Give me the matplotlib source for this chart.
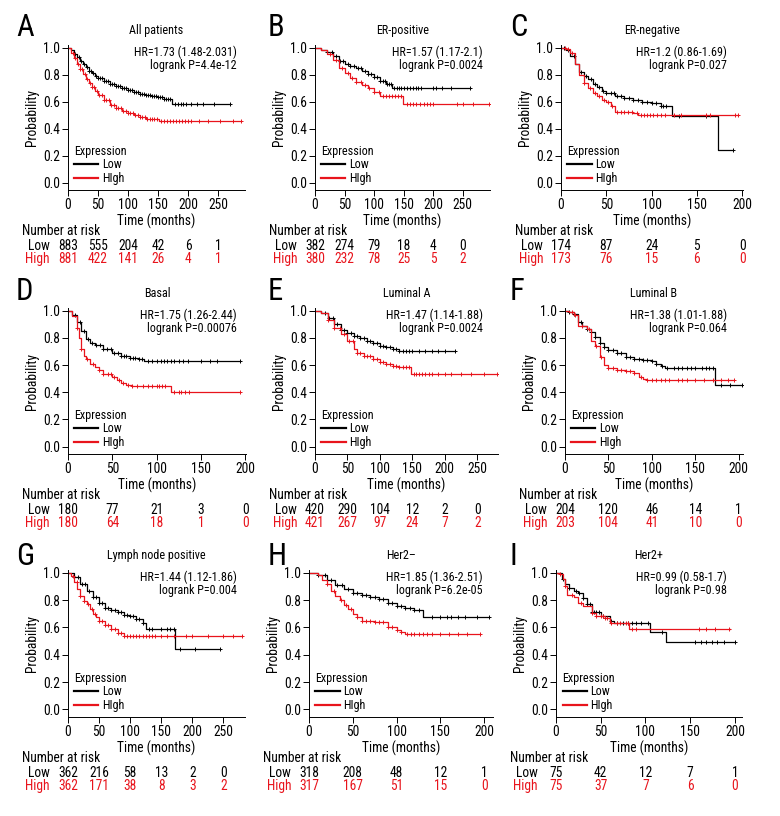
import numpy as np
import matplotlib
matplotlib.use("Agg")
import matplotlib.pyplot as plt
import matplotlib.font_manager as fm
from matplotlib.ticker import FormatStrFormatter
from matplotlib.transforms import blended_transform_factory

# condensed look of the original: take a narrow family if one is installed
_ttf = fm.fontManager.ttflist
_names = {f.name for f in _ttf}
fs_scale = 1.0
picked = None
for cand in ['Liberation Sans Narrow', 'Roboto Condensed', 'Open Sans Condensed',
             'Noto Sans Condensed', 'DejaVu Sans Condensed']:
    if cand in _names:
        picked = cand
        break
if picked:
    plt.rcParams['font.family'] = [picked, 'DejaVu Sans']
elif any(f.name == 'DejaVu Sans' and 'condensed' in str(f.stretch) for f in _ttf):
    plt.rcParams['font.family'] = ['DejaVu Sans']
    plt.rcParams['font.stretch'] = 'condensed'
    picked = 'DejaVu Sans Condensed'
else:
    plt.rcParams['font.family'] = ['Roboto', 'DejaVu Sans']
    fs_scale = 0.85
    picked = 'Roboto'

RED = '#e8141c'

# ---- panel A: All patients
a_low_t = [0, 5, 10, 15, 20, 25, 30, 35, 40, 45, 50, 60, 70, 80, 90, 100, 110, 120, 130, 140, 150, 160, 174, 270]
a_low_s = [1.0, 0.98, 0.955, 0.93, 0.905, 0.88, 0.855, 0.83, 0.81, 0.79, 0.775, 0.75, 0.73, 0.715, 0.70, 0.688, 0.675, 0.66, 0.65, 0.64, 0.632, 0.622, 0.58, 0.58]
a_low_cens = [12, 18, 22, 27, 31, 35, 38, 42, 46, 50, 53, 57, 60, 63, 66, 70, 73, 76, 80, 83, 86, 90, 93, 96, 100, 103, 106, 110, 113, 116, 120, 123, 126, 130, 133, 136, 140, 143, 146, 150, 153, 156, 160, 163, 166, 170, 178, 183, 188, 192, 197, 205, 215, 225, 243, 270]
a_high_t = [0, 5, 10, 15, 20, 25, 30, 35, 40, 45, 50, 60, 70, 80, 90, 100, 110, 120, 130, 152, 288]
a_high_s = [1.0, 0.96, 0.92, 0.88, 0.84, 0.805, 0.77, 0.74, 0.71, 0.68, 0.65, 0.61, 0.575, 0.55, 0.53, 0.515, 0.50, 0.485, 0.475, 0.46, 0.46]
a_high_cens = [8, 12, 16, 20, 24, 28, 32, 36, 40, 44, 48, 52, 56, 60, 64, 68, 72, 76, 80, 84, 88, 92, 96, 100, 104, 108, 112, 116, 120, 124, 128, 132, 136, 140, 144, 148, 155, 160, 165, 170, 175, 180, 185, 190, 195, 200, 205, 219, 233, 253, 275, 288]
a_risk_low = [883, 555, 204, 42, 6, 1]
a_risk_high = [881, 422, 141, 26, 4, 1]
a_hr = ["HR=1.73 (1.48-2.031)", "logrank P=4.4e-12"]

# ---- panel B: ER-positive
b_low_t = [0, 10, 20, 30, 40, 50, 60, 70, 80, 90, 100, 110, 120, 130, 262]
b_low_s = [1.0, 0.985, 0.965, 0.935, 0.905, 0.88, 0.865, 0.85, 0.83, 0.805, 0.78, 0.755, 0.73, 0.70, 0.70]
b_low_cens = [20, 28, 35, 42, 48, 55, 60, 66, 72, 78, 84, 90, 95, 100, 105, 110, 115, 118, 122, 125, 128, 133, 138, 142, 146, 150, 155, 160, 165, 170, 175, 180, 200, 205, 215, 230, 262]
b_high_t = [0, 10, 20, 30, 40, 50, 60, 70, 80, 90, 100, 110, 148, 295]
b_high_s = [1.0, 0.985, 0.955, 0.91, 0.85, 0.81, 0.775, 0.745, 0.72, 0.70, 0.675, 0.64, 0.58, 0.58]
b_high_cens = [25, 35, 45, 55, 62, 70, 78, 85, 92, 100, 108, 115, 120, 125, 130, 135, 140, 145, 155, 160, 165, 170, 178, 185, 190, 195, 200, 240, 251, 268, 295]
b_risk_low = [382, 274, 79, 18, 4, 0]
b_risk_high = [380, 232, 78, 25, 5, 2]
b_hr = ["HR=1.57 (1.17-2.1)", "logrank P=0.0024"]

# ---- panel C: ER-negative
c_low_t = [0, 5, 10, 15, 20, 25, 30, 35, 40, 45, 50, 60, 70, 80, 90, 100, 110, 123, 173, 190]
c_low_s = [1.0, 0.985, 0.94, 0.88, 0.82, 0.79, 0.765, 0.73, 0.705, 0.68, 0.665, 0.645, 0.63, 0.615, 0.60, 0.59, 0.565, 0.49, 0.245, 0.245]
c_low_cens = [3, 8, 14, 22, 28, 33, 38, 42, 46, 50, 55, 58, 62, 66, 70, 75, 80, 85, 90, 95, 100, 105, 110, 113, 116, 130, 160, 190]
c_high_t = [0, 5, 10, 15, 20, 25, 30, 35, 40, 45, 50, 55, 60, 65, 80, 85, 195]
c_high_s = [1.0, 0.99, 0.96, 0.88, 0.80, 0.74, 0.70, 0.665, 0.645, 0.61, 0.595, 0.565, 0.525, 0.52, 0.515, 0.50, 0.50]
c_high_cens = [4, 8, 12, 25, 32, 38, 42, 47, 52, 56, 62, 66, 70, 74, 78, 84, 88, 92, 95, 98, 102, 106, 110, 115, 125, 132, 160, 165, 192, 195]
c_risk_low = [174, 87, 24, 5, 0]
c_risk_high = [173, 76, 15, 6, 0]
c_hr = ["HR=1.2 (0.86-1.69)", "logrank P=0.027"]

# ---- panel D: Basal
d_low_t = [0, 5, 10, 15, 20, 25, 30, 40, 50, 60, 70, 80, 86, 194]
d_low_s = [1.0, 0.97, 0.92, 0.85, 0.79, 0.765, 0.745, 0.715, 0.69, 0.665, 0.655, 0.645, 0.63, 0.63]
d_low_cens = [8, 14, 18, 23, 27, 32, 36, 40, 44, 48, 52, 56, 60, 63, 66, 70, 73, 76, 80, 84, 90, 95, 100, 105, 108, 112, 116, 120, 125, 130, 135, 150, 160, 168, 194]
d_high_t = [0, 5, 10, 12, 15, 18, 20, 25, 30, 35, 40, 50, 55, 60, 65, 72, 116, 194]
d_high_s = [1.0, 0.96, 0.87, 0.80, 0.72, 0.67, 0.645, 0.61, 0.585, 0.56, 0.535, 0.51, 0.49, 0.47, 0.455, 0.445, 0.40, 0.40]
d_high_cens = [10, 15, 22, 28, 35, 40, 45, 48, 52, 58, 62, 68, 72, 78, 85, 90, 95, 100, 103, 106, 110, 120, 125, 128, 132, 137, 194]
d_risk_low = [180, 77, 21, 3, 0]
d_risk_high = [180, 64, 18, 1, 0]
d_hr = ["HR=1.75 (1.26-2.44)", "logrank P=0.00076"]

# ---- panel E: Luminal A
e_low_t = [0, 10, 20, 30, 40, 50, 60, 70, 80, 90, 100, 110, 120, 130, 215]
e_low_s = [1.0, 0.985, 0.95, 0.90, 0.86, 0.835, 0.815, 0.80, 0.78, 0.76, 0.74, 0.73, 0.715, 0.70, 0.70]
e_low_cens = [15, 22, 28, 34, 40, 45, 50, 55, 60, 65, 70, 75, 80, 85, 90, 95, 100, 105, 110, 115, 120, 125, 130, 135, 140, 145, 150, 160, 170, 180, 190, 200, 215]
e_high_t = [0, 10, 20, 30, 40, 50, 60, 65, 75, 90, 100, 110, 120, 130, 148, 280]
e_high_s = [1.0, 0.98, 0.93, 0.875, 0.83, 0.78, 0.72, 0.69, 0.665, 0.645, 0.625, 0.605, 0.595, 0.585, 0.535, 0.535]
e_high_cens = [20, 30, 38, 45, 52, 58, 65, 70, 75, 80, 85, 90, 95, 100, 105, 110, 115, 120, 125, 130, 135, 140, 145, 152, 156, 160, 165, 170, 175, 180, 190, 200, 210, 225, 240, 260, 280]
e_risk_low = [420, 290, 104, 12, 2, 0]
e_risk_high = [421, 267, 97, 24, 7, 2]
e_hr = ["HR=1.47 (1.14-1.88)", "logrank P=0.0024"]

# ---- panel F: Luminal B
f_low_t = [0, 5, 10, 15, 20, 25, 30, 35, 40, 45, 50, 60, 70, 80, 90, 100, 105, 110, 115, 173, 204]
f_low_s = [1.0, 0.99, 0.975, 0.92, 0.89, 0.865, 0.845, 0.81, 0.76, 0.73, 0.71, 0.685, 0.66, 0.645, 0.64, 0.63, 0.61, 0.59, 0.575, 0.455, 0.455]
f_low_cens = [5, 10, 18, 25, 30, 35, 40, 45, 50, 55, 60, 65, 70, 75, 80, 85, 90, 95, 100, 105, 112, 118, 125, 130, 135, 140, 145, 150, 158, 162, 166, 170, 180, 190, 204]
f_high_t = [0, 5, 10, 15, 25, 30, 35, 40, 45, 50, 60, 70, 80, 85, 90, 95, 195]
f_high_s = [1.0, 0.99, 0.97, 0.89, 0.865, 0.78, 0.74, 0.66, 0.60, 0.575, 0.565, 0.555, 0.54, 0.515, 0.50, 0.49, 0.49]
f_high_cens = [8, 12, 20, 28, 36, 42, 50, 55, 60, 65, 70, 75, 80, 88, 95, 100, 105, 110, 115, 120, 130, 135, 140, 150, 160, 170, 180, 188, 195]
f_risk_low = [204, 120, 46, 14, 1]
f_risk_high = [203, 104, 41, 10, 0]
f_hr = ["HR=1.38 (1.01-1.88)", "logrank P=0.064"]

# ---- panel G: Lymph node positive
g_low_t = [0, 10, 20, 30, 40, 50, 60, 70, 80, 90, 100, 110, 120, 125, 173, 245]
g_low_s = [1.0, 0.97, 0.92, 0.87, 0.82, 0.78, 0.745, 0.73, 0.715, 0.69, 0.68, 0.665, 0.63, 0.59, 0.445, 0.445]
g_low_cens = [10, 16, 22, 28, 34, 40, 45, 50, 55, 60, 65, 70, 75, 80, 85, 90, 95, 100, 105, 110, 115, 120, 130, 135, 150, 160, 165, 170, 180, 205, 245]
g_high_t = [0, 5, 10, 15, 20, 25, 30, 35, 40, 45, 50, 60, 70, 80, 90, 280]
g_high_s = [1.0, 0.975, 0.93, 0.88, 0.83, 0.795, 0.77, 0.735, 0.70, 0.675, 0.65, 0.615, 0.585, 0.56, 0.535, 0.535]
g_high_cens = [8, 14, 20, 26, 32, 38, 44, 50, 55, 60, 65, 70, 75, 80, 85, 90, 95, 100, 105, 110, 115, 120, 125, 130, 135, 140, 150, 160, 170, 190, 200, 225, 250, 265, 280]
g_risk_low = [362, 216, 58, 13, 2, 0]
g_risk_high = [362, 171, 38, 8, 3, 2]
g_hr = ["HR=1.44 (1.12-1.86)", "logrank P=0.004"]

# ---- panel H: Her2-
h_low_t = [0, 10, 20, 30, 40, 50, 60, 70, 80, 90, 100, 110, 120, 130, 205]
h_low_s = [1.0, 0.985, 0.95, 0.91, 0.88, 0.855, 0.84, 0.825, 0.81, 0.78, 0.755, 0.745, 0.725, 0.675, 0.675]
h_low_cens = [10, 18, 25, 32, 38, 44, 50, 55, 60, 65, 70, 75, 80, 85, 90, 95, 100, 105, 110, 115, 120, 125, 140, 150, 158, 162, 170, 178, 192, 205]
h_high_t = [0, 10, 15, 20, 25, 30, 35, 40, 45, 50, 55, 60, 75, 90, 100, 105, 110, 195]
h_high_s = [1.0, 0.98, 0.95, 0.92, 0.87, 0.83, 0.80, 0.765, 0.735, 0.70, 0.675, 0.65, 0.64, 0.605, 0.58, 0.565, 0.55, 0.55]
h_high_cens = [20, 28, 36, 42, 48, 55, 60, 65, 70, 75, 80, 85, 90, 95, 100, 105, 112, 116, 120, 125, 130, 135, 140, 150, 160, 170, 180, 195]
h_risk_low = [318, 208, 48, 12, 1]
h_risk_high = [317, 167, 51, 15, 0]
h_hr = ["HR=1.85 (1.36-2.51)", "logrank P=6.2e-05"]

# ---- panel I: Her2+
i_low_t = [0, 7, 10, 15, 20, 25, 30, 35, 40, 50, 60, 65, 105, 123, 200]
i_low_s = [1.0, 0.955, 0.92, 0.885, 0.865, 0.85, 0.815, 0.77, 0.71, 0.68, 0.645, 0.63, 0.57, 0.495, 0.495]
i_low_cens = [8, 15, 22, 26, 30, 35, 38, 40, 42, 45, 48, 52, 62, 68, 75, 80, 85, 90, 95, 103, 118, 155, 162, 168, 175, 180, 188, 200]
i_high_t = [0, 5, 8, 10, 12, 20, 25, 30, 40, 45, 55, 60, 82, 195]
i_high_s = [1.0, 0.99, 0.955, 0.905, 0.835, 0.825, 0.78, 0.76, 0.705, 0.68, 0.67, 0.635, 0.59, 0.59]
i_high_cens = [5, 10, 18, 28, 40, 45, 50, 52, 55, 57, 62, 68, 72, 78, 80, 85, 90, 160, 168, 178, 193]
i_risk_low = [75, 42, 12, 7, 1]
i_risk_high = [75, 37, 7, 6, 0]
i_hr = ["HR=0.99 (0.58-1.7)", "logrank P=0.98"]

letters = ["A", "B", "C", "D", "E", "F", "G", "H", "I"]
titles = ["All patients", "ER-positive", "ER-negative", "Basal", "Luminal A",
          "Luminal B", "Lymph node positive", "Her2\u2013", "Her2+"]
x_ticks_250 = [0, 50, 100, 150, 200, 250]
x_ticks_200 = [0, 50, 100, 150, 200]

panels = [
    (a_low_t, a_low_s, a_low_cens, a_high_t, a_high_s, a_high_cens, a_risk_low, a_risk_high, a_hr, x_ticks_250),
    (b_low_t, b_low_s, b_low_cens, b_high_t, b_high_s, b_high_cens, b_risk_low, b_risk_high, b_hr, x_ticks_250),
    (c_low_t, c_low_s, c_low_cens, c_high_t, c_high_s, c_high_cens, c_risk_low, c_risk_high, c_hr, x_ticks_200),
    (d_low_t, d_low_s, d_low_cens, d_high_t, d_high_s, d_high_cens, d_risk_low, d_risk_high, d_hr, x_ticks_200),
    (e_low_t, e_low_s, e_low_cens, e_high_t, e_high_s, e_high_cens, e_risk_low, e_risk_high, e_hr, x_ticks_250),
    (f_low_t, f_low_s, f_low_cens, f_high_t, f_high_s, f_high_cens, f_risk_low, f_risk_high, f_hr, x_ticks_200),
    (g_low_t, g_low_s, g_low_cens, g_high_t, g_high_s, g_high_cens, g_risk_low, g_risk_high, g_hr, x_ticks_250),
    (h_low_t, h_low_s, h_low_cens, h_high_t, h_high_s, h_high_cens, h_risk_low, h_risk_high, h_hr, x_ticks_200),
    (i_low_t, i_low_s, i_low_cens, i_high_t, i_high_s, i_high_cens, i_risk_low, i_risk_high, i_hr, x_ticks_200),
]

# layout in pixels: left, top, right, bottom of each plot area
axes_px = [(68, 45, 245, 190), (315, 45, 490, 190), (561, 45, 743, 190),
           (68, 308, 246, 454), (315, 308, 498, 454), (565, 308, 743, 454),
           (68, 570, 245, 717), (309, 570, 493, 717), (556, 570, 742, 717)]
x_max = [295, 296, 201, 201, 282, 205, 285, 210, 208]
hr_right = [237, 483, 727]
letter_pos = [(16, 13), (268, 13), (510, 13), (16, 277), (268, 277), (510, 277),
              (16, 542), (268, 542), (510, 542)]

fs = 9 * fs_scale
W, H = 780, 816
fig = plt.figure(figsize=(W / 100, H / 100), dpi=100)


def draw_km(ax, t, s, cens, color):
    t = np.asarray(t, dtype=float)
    s = np.asarray(s, dtype=float)
    line, = ax.step(t, s, where='post', color=color, lw=0.9)
    idx = np.searchsorted(t, cens, side='right') - 1
    ax.plot(cens, s[idx], ls='none', marker='+', ms=3.2, mew=0.7, color=color)
    return line


for k, (lt, ls_, lc, ht, hs, hc, rl, rh, hr, xt) in enumerate(panels):
    l, t, r, b = axes_px[k]
    ax = fig.add_axes([l / W, 1 - b / H, (r - l) / W, (b - t) / H])
    line_low = draw_km(ax, lt, ls_, lc, 'black')
    line_high = draw_km(ax, ht, hs, hc, RED)

    ax.set_xlim(0, x_max[k])
    ax.set_ylim(-0.055, 1.02)
    ax.set_xticks(xt)
    ax.set_yticks([0, 0.2, 0.4, 0.6, 0.8, 1.0])
    ax.yaxis.set_major_formatter(FormatStrFormatter('%.1f'))
    for side in ['top', 'right']:
        ax.spines[side].set_visible(False)
    for side in ['left', 'bottom']:
        ax.spines[side].set_linewidth(0.7)
    ax.tick_params(direction='out', length=4, width=0.7, labelsize=fs * 1.08, pad=2)
    ax.set_xlabel('Time (months)', fontsize=fs * 1.08, labelpad=1)
    ax.set_ylabel('Probability', fontsize=fs * 1.08, labelpad=3)
    ax.set_title(titles[k], fontsize=fs * 0.97, pad=8)

    fig.text(hr_right[k % 3] / W, 1 - (t + 1) / H, hr[0] + "\n" + hr[1],
             ha='right', va='top', fontsize=fs * 0.97, linespacing=0.95, multialignment='right')

    leg = ax.legend([line_low, line_high], ['Low', 'HIgh'], title='Expression',
                    loc='lower left', bbox_to_anchor=(0.035, 0.035), frameon=False,
                    alignment='left', fontsize=fs * 0.97, title_fontsize=fs * 0.97,
                    handlelength=2.0, handletextpad=0.3, labelspacing=0.05,
                    borderpad=0, borderaxespad=0)
    for h in leg.legend_handles:
        h.set_linewidth(1.6)

    # number at risk table
    tr = blended_transform_factory(ax.transData, fig.transFigure)
    fig.text((l - 46) / W, 1 - (b + 41) / H, 'Number at risk', fontsize=fs * 1.08, va='center')
    fig.text((l - 18) / W, 1 - (b + 56) / H, 'Low', fontsize=fs * 1.08, va='center', ha='right')
    fig.text((l - 18) / W, 1 - (b + 69) / H, 'High', fontsize=fs * 1.08, va='center', ha='right', color=RED)
    for x, n in zip(xt, rl):
        ax.text(x, 1 - (b + 56) / H, str(n), transform=tr, fontsize=fs * 1.08, ha='center', va='center')
    for x, n in zip(xt, rh):
        ax.text(x, 1 - (b + 69) / H, str(n), transform=tr, fontsize=fs * 1.08, ha='center', va='center', color=RED)

    lx, ly = letter_pos[k]
    fig.text(lx / W, 1 - ly / H, letters[k], fontsize=22, va='top', ha='left')

fig.savefig('out.png', dpi=100)
